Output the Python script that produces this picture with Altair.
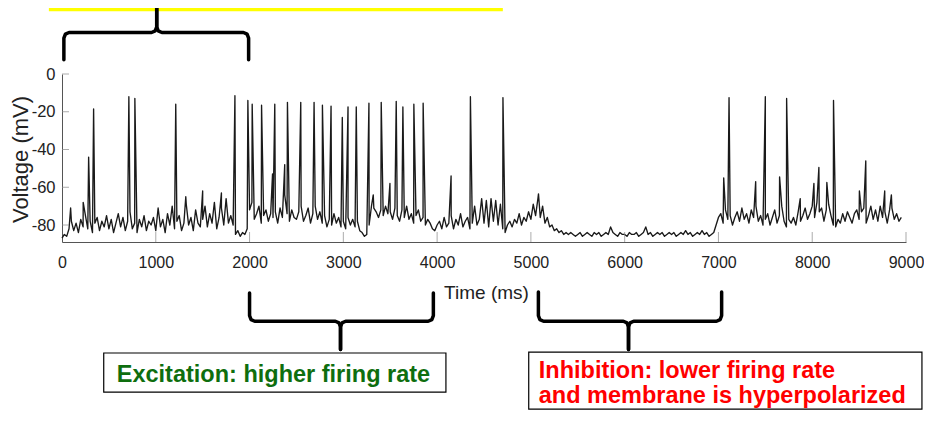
import altair as alt
import pandas as pd

FONT = "Liberation Sans"
STEP = 25  # ms between baseline samples

# Membrane potential baseline (mV) read every 25 ms, one row per 500 ms
seg00 = [-87, -85, -86, -82, -78, -83, -79, -84, -77, -81, -75, -82, -78, -84, -79, -76, -83, -78, -81, -75]
seg01 = [-82, -77, -84, -79, -74, -81, -76, -83, -78, -73, -82, -79, -84, -77, -81, -75, -83, -78, -80, -76]
seg02 = [-83, -71, -81, -77, -84, -74, -80, -70, -82, -78, -75, -83, -79, -69, -80, -76, -83, -72, -79, -81]
seg03 = [-77, -70, -81, -74, -79, -68, -82, -76, -71, -80, -66, -79, -75, -80, -85, -83, -86, -84, -85, -82]
seg04 = [-72, -68, -77, -74, -70, -79, -75, -72, -78, -74, -76, -73, -79, -71, -76, -64, -74, -78, -72, -76]
seg05 = [-77, -73, -70, -78, -75, -71, -79, -74, -70, -77, -73, -79, -75, -81, -77, -80, -74, -79, -76, -81]
seg06 = [-78, -82, -76, -80, -77, -81, -78, -83, -84, -86, -85, -80, -70, -71, -73, -76, -72, -75, -70, -74]
seg07 = [-73, -77, -71, -75, -78, -72, -76, -70, -77, -74, -79, -75, -72, -78, -76, -80, -77, -79, -82, -83]
seg08 = [-80, -78, -82, -76, -81, -79, -75, -82, -77, -80, -74, -81, -78, -76, -82, -79, -70, -80, -77, -66]
seg09 = [-79, -67, -81, -66, -78, -67, -80, -69, -82, -84, -80, -78, -81, -77, -79, -74, -80, -76, -78, -73]
seg10 = [-77, -69, -75, -66, -76, -70, -79, -76, -81, -80, -83, -82, -84, -83, -85, -84, -85, -84, -85, -86]
seg11 = [-85, -84, -86, -85, -84, -85, -86, -84, -85, -84, -86, -85, -84, -85, -81, -84, -85, -86, -84, -85]
seg12 = [-85, -86, -84, -85, -85, -84, -86, -85, -84, -81, -85, -84, -86, -85, -84, -85, -84, -86, -85, -84]
seg13 = [-85, -84, -86, -85, -84, -85, -83, -85, -84, -86, -85, -84, -85, -83, -85, -84, -86, -85, -84, -80]
seg14 = [-76, -74, -79, -72, -77, -75, -80, -76, -73, -78, -71, -77, -74, -79, -72, -76, -70, -78, -75, -80]
seg15 = [-77, -74, -80, -76, -72, -79, -75, -70, -78, -81, -77, -79, -76, -80, -73, -78, -75, -71, -77, -74]
seg16 = [-70, -76, -68, -73, -71, -78, -72, -69, -75, -80, -81, -77, -79, -74, -78, -73, -76, -79, -74, -72]
seg17 = [-77, -73, -71, -79, -75, -70, -77, -72, -78, -70, -76, -73, -79, -72, -71, -77, -74, -78, -76]

# Spikes and large PSPs: time (ms) and peak (mV)
spike_t = [92, 226, 284, 337, 713, 777, 1213, 1320, 1500, 1700,
           1844, 1982, 2028, 2128, 2245, 2269, 2375, 2404, 2546, 2688,
           2777, 2869, 2989, 3050, 3138, 3273, 3319, 3404, 3497, 3564,
           3635, 3752, 3851, 4149, 4355, 4702, 5081, 7056, 7113, 7397,
           7500, 7652, 7727, 7872, 8018, 8071, 8156, 8227, 8503, 8571,
           8773, 8844]
spike_v = [-71, -68, -44, -18.5, -12, -13, -16, -65, -62, -63,
           -11.5, -14, -16, -16.5, -53, -16, -48, -15, -15, -15,
           -16.5, -17, -23, -17.5, -17.5, -15.5, -64, -15, -58, -14.5,
           -17.5, -16, -15.5, -54, -12, -12.5, -63.5, -55, -12.5, -57,
           -12, -54.5, -13, -66, -58, -49.5, -57.5, -14, -62, -46,
           -62, -64]

x_ticks = [0, 1000, 2000, 3000, 4000, 5000, 6000, 7000, 8000, 9000]
y_ticks = [-80, -60, -40, -20, 0]

# Annotation texts
exc_text = ["Excitation: higher firing rate"]
inh_text = ["Inhibition: lower firing rate", "and membrane is hyperpolarized"]

segs = [seg00, seg01, seg02, seg03, seg04, seg05, seg06, seg07, seg08,
        seg09, seg10, seg11, seg12, seg13, seg14, seg15, seg16, seg17]
base = [v for s in segs for v in s]
times = [i * STEP for i in range(len(base))]
trace = pd.DataFrame({"t": times + spike_t, "v": base + spike_v}).sort_values("t")

xs = alt.Scale(domain=[0, 9000], nice=False, zero=False)
ys = alt.Scale(domain=[-89, 0], nice=False, zero=False)

xaxis = alt.Axis(values=x_ticks, labelExpr="'' + datum.value", labelFont=FONT,
                 labelFontSize=16, labelColor="#222", labelPadding=12,
                 labelFlush=False, ticks=False, tickSize=0, grid=False,
                 domainColor="#555", domainWidth=1, titleFont=FONT,
                 titleFontSize=19, titleFontWeight="normal", titleColor="#222",
                 titleX=424, titleY=56, titleBaseline="alphabetic")
yaxis = alt.Axis(values=y_ticks, labelExpr="'' + datum.value", labelFont=FONT,
                 labelFontSize=16.5, labelColor="#222", labelPadding=7,
                 labelFlush=False, ticks=False, tickSize=0, grid=False,
                 domainColor="#555", domainWidth=1, titleFont=FONT,
                 titleFontSize=22, titleFontWeight="normal", titleColor="#222",
                 titleX=-42, titleY=85, titleAlign="center", titleBaseline="middle")

X = alt.X("t:Q", scale=xs, axis=xaxis, title="Time (ms)")
Y = alt.Y("v:Q", scale=ys, axis=yaxis, title="Voltage (mV)")


def brace(name, L, R, C, y_end, y_h, y_tip, rx=55.0, ry=3.0):
    s = 1 if y_tip > y_h else -1
    k = 0.293
    rows = []
    for half, edge, sx in (("l", L, 1), ("r", R, -1)):
        pts = [(edge, y_end), (edge, y_h - s * ry),
               (edge + sx * rx * k, y_h - s * ry * k), (edge + sx * rx, y_h),
               (C - sx * rx, y_h), (C - sx * rx * k, y_h + s * ry * k),
               (C, y_h + s * ry), (C, y_tip)]
        for i, (t, v) in enumerate(pts):
            rows.append({"t": t, "v": v, "seg": name + half, "o": i})
    return rows


braces = pd.DataFrame(
    brace("top", 20, 1990, 1010, 7.5, 22.0, 36.0)
    + brace("exc", 2000, 3960, 2970, -116.0, -131.0, -146.0)
    + brace("inh", 5080, 7034, 6041, -115.5, -131.0, -146.0)
)

yellow = pd.DataFrame({"t": [-140], "t2": [4701], "v": [33.2], "v2": [36.0]})
boxes = pd.DataFrame({"t": [445, 4977], "t2": [4094, 9170],
                      "v": [-147.8, -147.3], "v2": [-168.5, -177.5]})
exc_df = pd.DataFrame({"t": [584], "v": [-163.2], "label": exc_text})
inh_df = pd.DataFrame({"t": [5084, 5084], "v": [-161.0, -174.3], "label": inh_text})

xt_df = pd.DataFrame({"t": x_ticks[1:], "v": [-89] * (len(x_ticks) - 1)})
yt_df = pd.DataFrame({"t": [0] * len(y_ticks), "v": y_ticks})

layer_yellow = alt.Chart(yellow).mark_rect(fill="#ffff00").encode(
    x=X, x2="t2:Q", y=Y, y2="v2:Q")
layer_braces = alt.Chart(braces).mark_line(
    color="black", strokeWidth=3.5, strokeCap="round", strokeJoin="round"
).encode(x=X, y=Y, detail="seg:N", order=alt.Order("o:Q"))
layer_trace = alt.Chart(trace).mark_line(color="#1a1a1a", strokeWidth=1.35,
                                         strokeJoin="round").encode(x=X, y=Y)
layer_xt = alt.Chart(xt_df).mark_tick(orient="vertical", size=10, thickness=1,
                                       color="#888", yOffset=-5).encode(x=X, y=Y)
layer_yt = alt.Chart(yt_df).mark_tick(orient="horizontal", size=7, thickness=1,
                                       color="#888", xOffset=3.5).encode(x=X, y=Y)
layer_boxes = alt.Chart(boxes).mark_rect(fill="white", stroke="black", strokeWidth=1.2).encode(
    x=X, x2="t2:Q", y=Y, y2="v2:Q")
layer_exc = alt.Chart(exc_df).mark_text(
    align="left", baseline="alphabetic", font=FONT, fontSize=23.5,
    fontWeight="bold", color="#0e6e0e").encode(x=X, y=Y, text="label:N")
layer_inh = alt.Chart(inh_df).mark_text(
    align="left", baseline="alphabetic", font=FONT, fontSize=23.5,
    fontWeight="bold", color="#ff0000").encode(x=X, y=Y, text="label:N")

chart = alt.layer(
    layer_yellow, layer_braces, layer_trace, layer_xt, layer_yt,
    layer_boxes, layer_exc, layer_inh
).properties(
    width=844, height=168,
    autosize=alt.AutoSizeParams(type="none"),
    padding={"left": 54, "top": 66, "right": 18, "bottom": 168},
    background="white",
).configure_view(stroke=None)

chart.save("out.html", embed_options={"renderer": "svg", "actions": False})
